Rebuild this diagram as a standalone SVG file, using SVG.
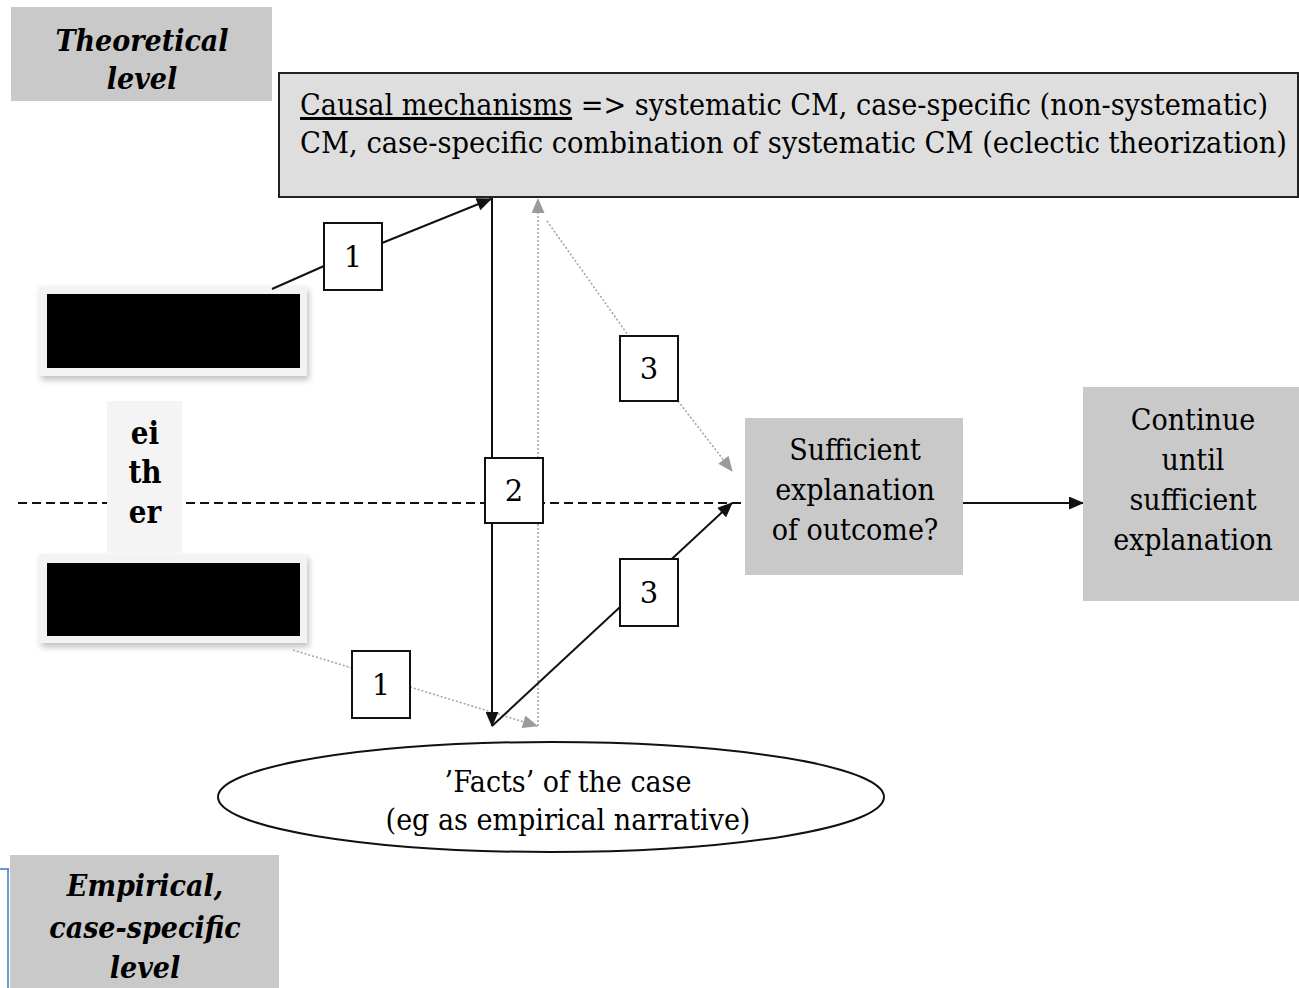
<svg xmlns="http://www.w3.org/2000/svg" width="1299" height="988" viewBox="0 0 1299 988">
  <style>
    .serif { font-family: "DejaVu Serif Condensed", "DejaVu Serif", serif; font-stretch: condensed; fill: #000; }
    .lvl { font-size: 30px; font-weight: bold; font-style: italic; text-anchor: middle; }
    .body { font-size: 30px; }
    .mid { text-anchor: middle; }
    .num { font-family: "DejaVu Serif", serif; font-size: 29px; text-anchor: middle; fill: #000; }
    .gray { fill: #c9c9c9; }
    .tag { fill: #fff; stroke: #111; stroke-width: 2; }
    .solid { stroke: #111; stroke-width: 2; fill: none; }
    .dot { stroke: #a6a6a6; stroke-width: 1.6; stroke-dasharray: 2 2; fill: none; }
    .dash { stroke: #111; stroke-width: 2; stroke-dasharray: 9 5; fill: none; }
  </style>
  <defs>
    <marker id="arrowBlackLg" viewBox="0 0 14 12" refX="13" refY="6" markerWidth="16" markerHeight="13" markerUnits="userSpaceOnUse" orient="auto">
      <path d="M0,0 L14,6 L0,12 Z" fill="#111"/>
    </marker>
    <marker id="arrowGray" viewBox="0 0 14 12" refX="13" refY="6" markerWidth="16" markerHeight="13" markerUnits="userSpaceOnUse" orient="auto">
      <path d="M0,0 L14,6 L0,12 Z" fill="#9a9a9a"/>
    </marker>
    <filter id="softShadow" x="-10%" y="-20%" width="125%" height="150%">
      <feGaussianBlur in="SourceAlpha" stdDeviation="3"/>
      <feOffset dx="2" dy="4" result="blur"/>
      <feComponentTransfer><feFuncA type="linear" slope="0.25"/></feComponentTransfer>
      <feMerge><feMergeNode/><feMergeNode in="SourceGraphic"/></feMerge>
    </filter>
  </defs>

  <rect width="1299" height="988" fill="#fff"/>

  <!-- level labels -->
  <g id="theoretical-level">
    <rect x="11" y="7" width="261" height="94" class="gray"/>
    <text class="serif lvl" x="142" y="51">Theoretical</text>
    <text class="serif lvl" x="142" y="89">level</text>
  </g>

  <g id="empirical-level">
    <rect x="10" y="855" width="269" height="133" class="gray"/>
    <text class="serif lvl" x="145" y="896">Empirical,</text>
    <text class="serif lvl" x="145" y="938">case-specific</text>
    <text class="serif lvl" x="145" y="978">level</text>
  </g>

  <!-- blue corner mark at the bottom-left edge -->
  <path d="M0,869 H9 M8,869 V988" stroke="#3d78c4" stroke-width="1.5" fill="none"/>

  <!-- causal mechanisms box -->
  <g id="causal-mechanisms">
    <rect x="279" y="73" width="1019" height="124" fill="#dedede" stroke="#222" stroke-width="2"/>
    <text class="serif body" x="300" y="115" textLength="968" lengthAdjust="spacingAndGlyphs"><tspan text-decoration="underline">Causal mechanisms</tspan> =&gt; systematic CM, case-specific (non-systematic)</text>
    <text class="serif body" x="300" y="153" textLength="987" lengthAdjust="spacingAndGlyphs">CM, case-specific combination of systematic CM (eclectic theorization)</text>
  </g>

  <!-- dashed boundary between levels -->
  <line x1="18" y1="503" x2="745" y2="503" class="dash"/>

  <!-- redacted starting points -->
  <g id="start-top" filter="url(#softShadow)">
    <rect x="39" y="286" width="268" height="90" fill="#f3f3f3"/>
    <rect x="47" y="294" width="253" height="74" fill="#000"/>
  </g>
  <g id="start-bottom" filter="url(#softShadow)">
    <rect x="39" y="554" width="268" height="89" fill="#f3f3f3"/>
    <rect x="47" y="563" width="253" height="73" fill="#000"/>
  </g>

  <g id="either">
    <rect x="107" y="401" width="75" height="152" fill="#f4f4f4"/>
    <text class="serif mid" x="145" y="444" font-size="31" font-weight="bold">ei</text>
    <text class="serif mid" x="145" y="483" font-size="31" font-weight="bold">th</text>
    <text class="serif mid" x="145" y="523" font-size="31" font-weight="bold">er</text>
  </g>

  <!-- connectors -->
  <g id="connectors">
    <!-- 1: from top start to theory -->
    <line x1="272" y1="289" x2="324" y2="266" class="solid"/>
    <line x1="382" y1="243" x2="491" y2="199" class="solid" marker-end="url(#arrowBlackLg)"/>
    <!-- 1: from bottom start to facts (dotted) -->
    <line x1="293" y1="650" x2="352" y2="668" class="dot"/>
    <line x1="410" y1="687" x2="537" y2="726" class="dot" marker-end="url(#arrowGray)"/>
    <!-- 2: theory down to facts -->
    <line x1="492" y1="198" x2="492" y2="726" class="solid" marker-end="url(#arrowBlackLg)"/>
    <!-- dotted return from facts up to theory -->
    <line x1="538" y1="726" x2="538" y2="199" class="dot" marker-end="url(#arrowGray)"/>
    <!-- 3: theory to sufficient explanation (dotted) -->
    <line x1="547" y1="221" x2="628" y2="335" class="dot"/>
    <line x1="678" y1="401" x2="732" y2="471" class="dot" marker-end="url(#arrowGray)"/>
    <!-- 3: facts to sufficient explanation -->
    <line x1="492" y1="726" x2="732" y2="503" class="solid" marker-end="url(#arrowBlackLg)"/>
    <!-- on to continue -->
    <line x1="963" y1="503" x2="1083" y2="503" class="solid" marker-end="url(#arrowBlackLg)"/>
  </g>

  <!-- step number tags -->
  <g id="tag-1-top">
    <rect x="324" y="223" width="58" height="67" class="tag"/>
    <text class="num" x="353" y="267">1</text>
  </g>
  <g id="tag-1-bottom">
    <rect x="352" y="651" width="58" height="67" class="tag"/>
    <text class="num" x="381" y="695">1</text>
  </g>
  <g id="tag-2">
    <rect x="485" y="458" width="58" height="65" class="tag"/>
    <text class="num" x="514" y="501">2</text>
  </g>
  <g id="tag-3-top">
    <rect x="620" y="336" width="58" height="65" class="tag"/>
    <text class="num" x="649" y="379">3</text>
  </g>
  <g id="tag-3-bottom">
    <rect x="620" y="559" width="58" height="67" class="tag"/>
    <text class="num" x="649" y="603">3</text>
  </g>

  <!-- outcome nodes -->
  <g id="sufficient">
    <rect x="745" y="418" width="218" height="157" class="gray"/>
    <text class="serif body mid" x="855" y="460">Sufficient</text>
    <text class="serif body mid" x="855" y="500">explanation</text>
    <text class="serif body mid" x="855" y="540">of outcome?</text>
  </g>

  <g id="continue">
    <rect x="1083" y="387" width="216" height="214" class="gray"/>
    <text class="serif body mid" x="1193" y="430">Continue</text>
    <text class="serif body mid" x="1193" y="470">until</text>
    <text class="serif body mid" x="1193" y="510">sufficient</text>
    <text class="serif body mid" x="1193" y="550">explanation</text>
  </g>

  <!-- facts of the case -->
  <g id="facts">
    <ellipse cx="551" cy="797" rx="333" ry="55" fill="#fff" stroke="#111" stroke-width="2"/>
    <text class="serif body mid" x="568" y="792">’Facts’ of the case</text>
    <text class="serif body mid" x="568" y="830">(eg as empirical narrative)</text>
  </g>
</svg>
